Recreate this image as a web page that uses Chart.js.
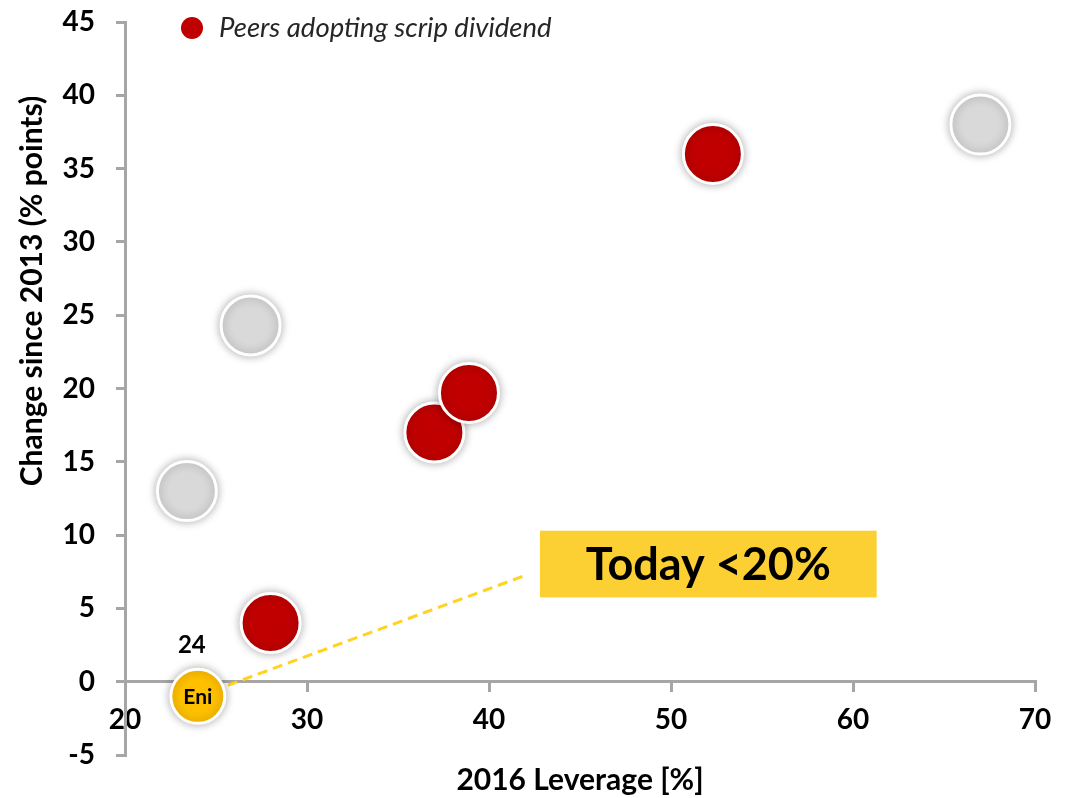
<!DOCTYPE html>
<html>
<head>
<meta charset="utf-8">
<script src="https://cdn.jsdelivr.net/npm/chart.js@4/dist/chart.umd.min.js"></script>
<style>
    body { margin: 0; background: #ffffff; }
    canvas { display: block; }
</style>
</head>
<body>
<canvas id="leverageChart" width="1070" height="798"></canvas>
<script>
// data
const otherPeersX = [23.4, 26.9, 67.0];
const otherPeersY = [13.0, 24.3, 38.0];
const scripPeersX = [28.0, 37.0, 38.9, 52.3];
const scripPeersY = [4.0, 17.0, 19.7, 36.0];
const eniX = [24.0];
const eniY = [-1.0];
const eniName = "Eni";
const leaderX = [24.0, 42.1];
const leaderY = [-1.0, 7.3];
const calloutText = "Today <20%";
const legendText = "Peers adopting scrip dividend";
const yTitle = "Change since 2013 (% points)";
const xTicks = [20, 30, 40, 50, 60, 70];
const yTicks = [-5, 0, 5, 10, 15, 20, 25, 30, 35, 40, 45];

const FONT = "Lato, 'Open Sans', sans-serif";
const AXIS_GREY = "#a6a6a6";

function toPoints(xs, ys)
{
    return xs.map(function(x, i) { return { x: x, y: ys[i] }; });
}

function noPadding()
{
    return { left: 0, top: 0, right: 0, bottom: 0 };
}

// soft shadow under the bubbles
const shadowPlugin =
{
    id: "bubbleShadow",
    beforeDatasetDraw: function(chart, args)
    {
        const ctx = chart.ctx;
        ctx.save();
        if (args.meta.type === "scatter")
        {
            ctx.shadowColor = "rgba(0, 0, 0, 0.3)";
            ctx.shadowBlur = 10;
            ctx.shadowOffsetX = 0;
            ctx.shadowOffsetY = 0;
        }
    },
    afterDatasetDraw: function(chart)
    {
        chart.ctx.restore();
    }
};

// legend, y title, Eni labels and the yellow callout
const notesPlugin =
{
    id: "notes",
    afterDraw: function(chart)
    {
        const ctx = chart.ctx;
        const xs = chart.scales.x;
        const ys = chart.scales.y;

        ctx.save();

        // legend
        ctx.fillStyle = "#c00000";
        ctx.beginPath();
        ctx.arc(192, 28, 11, 0, Math.PI * 2);
        ctx.fill();
        ctx.fillStyle = "#262626";
        ctx.font = "italic 27.5px " + FONT;
        ctx.textAlign = "left";
        ctx.textBaseline = "middle";
        ctx.fillText(legendText, 219, 28);

        // y axis title (sits above the middle of the axis in the original)
        ctx.save();
        ctx.translate(32, 291);
        ctx.rotate(-Math.PI / 2);
        ctx.fillStyle = "#000000";
        ctx.textAlign = "center";
        ctx.font = "bold 30px " + FONT;
        ctx.fillText(yTitle, 0, 0);
        ctx.restore();

        // Eni name and value
        const ex = xs.getPixelForValue(eniX[0]);
        const ey = ys.getPixelForValue(eniY[0]);
        ctx.fillStyle = "#000000";
        ctx.textAlign = "center";
        ctx.font = "bold 21px " + FONT;
        ctx.fillText(eniName, ex, ey + 1);
        ctx.font = "bold 24px " + FONT;
        ctx.fillText(String(eniX[0]), ex - 6, ey - 51);

        // callout box
        const bx1 = xs.getPixelForValue(42.8);
        const bx2 = xs.getPixelForValue(61.3);
        const by1 = ys.getPixelForValue(10.3);
        const by2 = ys.getPixelForValue(5.75);
        ctx.fillStyle = "#fccf33";
        ctx.fillRect(bx1, by1, bx2 - bx1, by2 - by1);
        ctx.fillStyle = "#000000";
        ctx.font = "bold 45px " + FONT;
        ctx.fillText(calloutText, (bx1 + bx2) / 2, (by1 + by2) / 2 + 1);

        ctx.restore();
    }
};

const ctx = document.getElementById("leverageChart").getContext("2d");

new Chart(ctx,
{
    type: "scatter",
    data:
    {
        datasets: [
            {
                label: "Eni",
                data: toPoints(eniX, eniY),
                backgroundColor: "#ffc000",
                borderColor: "#ffffff",
                borderWidth: 3,
                pointRadius: 27,
                pointHoverRadius: 27
            },
            {
                label: "leader",
                type: "line",
                data: toPoints(leaderX, leaderY),
                borderColor: "#ffd320",
                borderWidth: 3,
                borderDash: [10, 6],
                pointRadius: 0,
                fill: false
            },
            {
                label: "Peers adopting scrip dividend",
                data: toPoints(scripPeersX, scripPeersY),
                backgroundColor: "#c00000",
                borderColor: "#ffffff",
                borderWidth: 3,
                pointRadius: 29.5,
                pointHoverRadius: 29.5
            },
            {
                label: "Other peers",
                data: toPoints(otherPeersX, otherPeersY),
                backgroundColor: "#d9d9d9",
                borderColor: "#ffffff",
                borderWidth: 3,
                pointRadius: 29.5,
                pointHoverRadius: 29.5
            }
        ]
    },
    options:
    {
        responsive: false,
        animation: false,
        clip: false,
        layout:
        {
            autoPadding: false,
            padding: { top: 22, right: 35, bottom: 43, left: 0 }
        },
        plugins:
        {
            legend: { display: false },
            tooltip: { enabled: false }
        },
        scales:
        {
            x:
            {
                type: "linear",
                position: { y: 0 },
                min: 20,
                max: 70,
                afterBuildTicks: function(scale)
                {
                    scale.ticks = xTicks.map(function(v) { return { value: v }; });
                },
                afterFit: function(scale)
                {
                    scale.getPadding = noPadding;
                },
                ticks:
                {
                    color: "#000000",
                    padding: 12,
                    font: { family: FONT, size: 28, weight: "bold" }
                },
                grid:
                {
                    drawOnChartArea: false,
                    drawTicks: true,
                    tickLength: 9,
                    color: AXIS_GREY,
                    lineWidth: 3
                },
                border: { display: true, color: AXIS_GREY, width: 3 },
                title:
                {
                    display: true,
                    text: "2016 Leverage [%]",
                    color: "#000000",
                    font: { family: FONT, size: 30, weight: "bold" },
                    padding: { top: 14, bottom: 0 }
                }
            },
            y:
            {
                type: "linear",
                position: "left",
                min: -5,
                max: 45,
                afterBuildTicks: function(scale)
                {
                    scale.ticks = yTicks.map(function(v) { return { value: v }; });
                },
                afterFit: function(scale)
                {
                    scale.width = 125;
                    scale.getPadding = noPadding;
                },
                ticks:
                {
                    color: "#000000",
                    padding: 21,
                    font: { family: FONT, size: 28, weight: "bold" }
                },
                grid:
                {
                    drawOnChartArea: false,
                    drawTicks: true,
                    tickLength: 9,
                    color: AXIS_GREY,
                    lineWidth: 3
                },
                border: { display: true, color: AXIS_GREY, width: 3 }
            }
        }
    },
    plugins: [shadowPlugin, notesPlugin]
});
</script>
</body>
</html>
